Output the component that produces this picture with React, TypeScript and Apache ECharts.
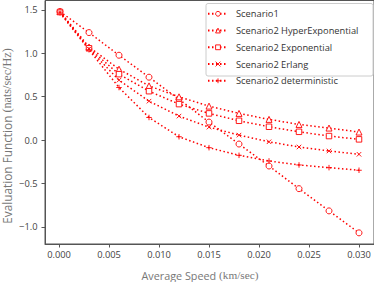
import React, { useEffect, useRef } from "react";
import * as echarts from "echarts";

const xs = [0.0001, 0.003, 0.006, 0.009, 0.012, 0.015, 0.018, 0.021, 0.024, 0.027, 0.03];
const seriesNames = [
  "Scenario1",
  "Scenario2 HyperExponential",
  "Scenario2 Exponential",
  "Scenario2 Erlang",
  "Scenario2 deterministic",
];
const scenario1 = [1.48, 1.238, 0.977, 0.724, 0.47, 0.207, -0.046, -0.299, -0.56, -0.816, -1.069];
const hyperExp = [1.48, 1.072, 0.816, 0.624, 0.498, 0.391, 0.307, 0.238, 0.18, 0.138, 0.092];
const expo = [1.475, 1.057, 0.759, 0.563, 0.414, 0.307, 0.222, 0.153, 0.095, 0.046, 0.008];
const erlang = [1.47, 1.05, 0.69, 0.448, 0.276, 0.149, 0.057, -0.02, -0.08, -0.126, -0.164];
const determ = [1.465, 1.04, 0.605, 0.26, 0.038, -0.088, -0.176, -0.241, -0.287, -0.318, -0.348];
const xTicks = [0, 0.005, 0.01, 0.015, 0.02, 0.025, 0.03];
const yTicks = [-1, -0.5, 0, 0.5, 1, 1.5];

const FONT = "Open Sans";
const RED = "#ff0000";

const symbols = [
  { symbol: "circle", size: 6 },
  { symbol: "triangle", size: 6 },
  { symbol: "rect", size: 5.5 },
  { symbol: "path://M0,0L10,10M10,0L0,10", size: 4.5 },
  { symbol: "path://M5,0L5,10M0,5L10,5", size: 5.5 },
];

export default function App() {
  const ref = useRef<HTMLDivElement>(null);
  useEffect(() => {
    if (!ref.current) return;
    const chart = echarts.init(ref.current, null, { renderer: "svg" });
    const all = [scenario1, hyperExp, expo, erlang, determ];
    const series = all.map((vals, i) => ({
      name: seriesNames[i],
      type: "line",
      data: xs.map((x, j) => [x, vals[j]]),
      symbol: symbols[i].symbol,
      symbolSize: symbols[i].size,
      showAllSymbol: true,
      color: RED,
      lineStyle: { color: RED, width: 1.5, type: [1.5, 2.5], cap: "butt" },
      itemStyle: { color: i >= 3 ? RED : "#fff", borderColor: RED, borderWidth: 0.9 },
      emphasis: { disabled: true },
      z: 2,
    }));
    chart.setOption({
      animation: false,
      backgroundColor: "#fff",
      grid: {
        left: 45,
        top: 0.5,
        width: 330,
        height: 243.5,
        show: true,
        borderColor: "#555",
        borderWidth: 1,
      },
      xAxis: {
        type: "value",
        min: -0.0014,
        max: 0.0315,
        splitLine: { show: false },
        axisLine: { show: true, onZero: false, lineStyle: { color: "#555", width: 1 } },
        axisTick: {
          show: true,
          customValues: xTicks,
          length: 3.5,
          lineStyle: { color: "#555" },
        },
        axisLabel: {
          customValues: xTicks,
          formatter: (v: number) => v.toFixed(3),
          fontFamily: FONT,
          fontSize: 9.3,
          color: "#444",
          margin: 6,
        },
      },
      yAxis: {
        type: "value",
        min: -1.1975,
        max: 1.6075,
        splitLine: { show: false },
        axisLine: { show: true, onZero: false, lineStyle: { color: "#555", width: 1 } },
        axisTick: {
          show: true,
          customValues: yTicks,
          length: 3.5,
          lineStyle: { color: "#555" },
        },
        axisLabel: {
          customValues: yTicks,
          formatter: (v: number) => (v < 0 ? "\u2212" : "") + Math.abs(v).toFixed(1),
          fontFamily: FONT,
          fontSize: 9.3,
          color: "#444",
          margin: 7.5,
        },
      },
      legend: {
        orient: "vertical",
        left: 207,
        top: 9.3,
        padding: 0,
        itemWidth: 20,
        itemHeight: 6,
        itemGap: 7.75,
        data: seriesNames,
        itemStyle: { borderWidth: 0.9 },
        textStyle: { fontFamily: FONT, fontSize: 9.3, color: "#333", padding: [0, 0, 0, 3] },
        z: 10,
      },
      graphic: [
        {
          type: "rect",
          z: 5,
          shape: { x: 206, y: 3.5, width: 167, height: 72.5, r: 2 },
          style: { fill: "rgba(255,255,255,0.85)", stroke: "#ccc", lineWidth: 1 },
        },
        {
          type: "text",
          x: 200,
          y: 275,
          style: {
            text: "{a|Average Speed }{b|(km/sec)}",
            align: "center",
            verticalAlign: "middle",
            rich: {
              a: { fontFamily: FONT, fontSize: 10.8, fill: "#777" },
              b: { fontFamily: "Liberation Serif", fontSize: 11.3, fill: "#777" },
            },
          },
        },
        {
          type: "text",
          x: 7,
          y: 136,
          rotation: Math.PI / 2,
          style: {
            text: "{a|Evaluation Function }{b|(nats/sec/Hz)}",
            align: "center",
            verticalAlign: "middle",
            rich: {
              a: { fontFamily: FONT, fontSize: 11.8, lineHeight: 12, fill: "#777" },
              b: { fontFamily: "Liberation Serif", fontSize: 12.2, lineHeight: 12, fill: "#777" },
            },
          },
        },
      ],
      series,
    });
    return () => chart.dispose();
  }, []);
  return <div ref={ref} style={{ width: 374, height: 282, position: "absolute", left: 0, top: 0 }} />;
}
